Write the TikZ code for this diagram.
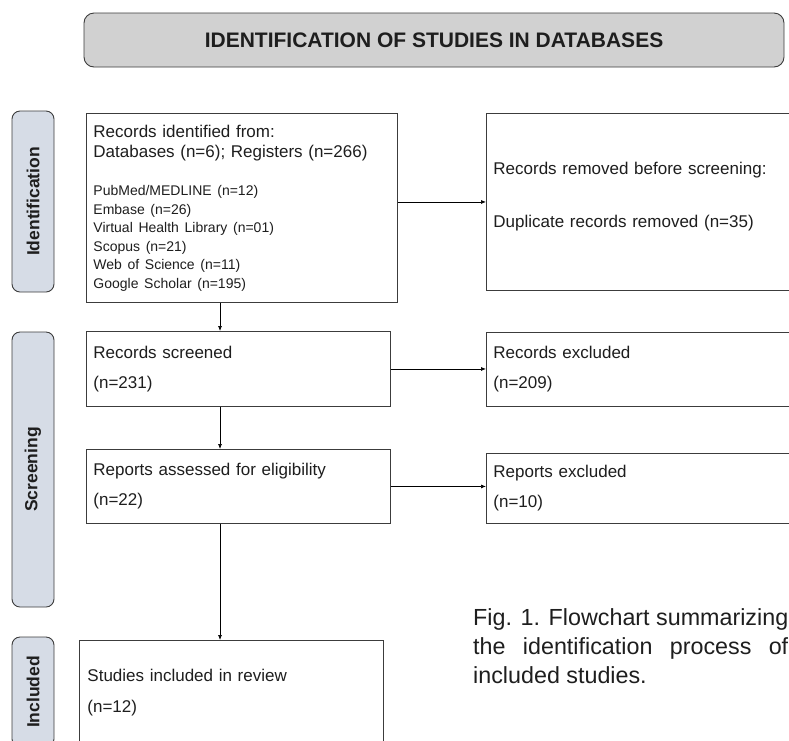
\documentclass[tikz,border=0pt]{standalone}
\usepackage{fontspec}
\setmainfont{Liberation Sans}
\usetikzlibrary{arrows.meta}

\definecolor{titlegray}{HTML}{D1D1D1}
\definecolor{stageblue}{HTML}{D6DCE6}
\definecolor{edgegray}{HTML}{3C3C3C}
\definecolor{inkgray}{HTML}{1E1E1E}
\newlength\capw
\newcommand\capfont{\fontsize{23.3}{29}\selectfont}

\tikzset{
  titlebox/.style={draw=edgegray, line width=0.9pt, fill=titlegray, rounded corners=10pt,
    minimum width=700pt, minimum height=54pt, inner sep=0pt,
    font=\fontsize{21}{24}\selectfont\bfseries, text=inkgray},
  stagebox/.style={draw=edgegray, line width=0.9pt, fill=stageblue, rounded corners=8pt,
    rotate=90, minimum height=42pt, inner sep=0pt,
    font=\fontsize{17.5}{20}\selectfont\bfseries, text=inkgray},
  flowbox/.style={draw=edgegray, line width=0.9pt, fill=white, anchor=north west,
    align=left, inner xsep=7pt, inner ysep=0pt,
    font=\fontsize{17}{30}\selectfont, text=inkgray},
  flowarrow/.style={draw=black, line width=0.7pt, -{Latex[length=5pt,width=4pt]}},
  capnode/.style={inner sep=0pt, align=left, font=\capfont, text=inkgray},
}

\begin{document}
\settowidth{\capw}{\capfont Fig. 1. Flowchart summarizing}%
\begin{tikzpicture}[x=1pt,y=1pt,yscale=-1]
  \useasboundingbox (0,0) rectangle (789,740);
  \clip (0,0) rectangle (789,740);

  % header
  \node[titlebox] (title) at (434,40) {IDENTIFICATION OF STUDIES IN DATABASES};

  % stage labels
  \node[stagebox, minimum width=181pt] (stage-id) at (33,201.5) {Identification};
  \node[stagebox, minimum width=275pt] (stage-scr) at (33,469.5) {Screening};
  \node[stagebox, minimum width=110pt] (stage-inc) at (33,692) {Included};

  % identification
  \node[flowbox, text width=297pt, minimum height=189pt] (records) at (86,113)
    {{\fontsize{17}{20}\selectfont Records identified from:\\Databases (n=6); Registers (n=266)\par}
     \vspace{19.7pt}
     \fontsize{14}{18.5}\selectfont PubMed/MEDLINE (n=12)\\Embase (n=26)\\Virtual Health Library (n=01)\\
     Scopus (n=21)\\Web of Science (n=11)\\Google Scholar (n=195)\par};
  \node[flowbox, text width=306pt, minimum height=177pt] (removed) at (486,113)
    {{\fontsize{17}{20}\selectfont Records removed before screening:\\[33pt]Duplicate records removed (n=35)\par}
     \vspace{10pt}};

  % screening
  \node[flowbox, text width=290pt, minimum height=75pt] (screened) at (86,331)
    {Records screened\\(n=231)};
  \node[flowbox, text width=306pt, minimum height=74pt] (excluded) at (486,332)
    {Records excluded\\(n=209)};
  \node[flowbox, text width=290pt, minimum height=74pt] (assessed) at (86,449)
    {Reports assessed for eligibility\\(n=22)};
  \node[flowbox, text width=306pt, minimum height=70pt] (repexcl) at (486,453)
    {Reports excluded\\(n=10)};

  % included
  \node[flowbox, inner xsep=8pt, text width=288pt, minimum height=105pt,
    font=\fontsize{17}{31}\selectfont] (included) at (79,640)
    {Studies included in review\\(n=12)};

  % connectors
  \coordinate (spine) at (220,0);
  \draw[flowarrow] (records.east |- removed.west) -- (removed.west);
  \draw[flowarrow] (records.south -| spine) -- (screened.north -| spine);
  \draw[flowarrow] (screened.east) -- (screened.east -| excluded.west);
  \draw[flowarrow] (screened.south -| spine) -- (assessed.north -| spine);
  \draw[flowarrow] (assessed.east) -- (assessed.east -| repexcl.west);
  \draw[flowarrow] (assessed.south -| spine) -- (included.north -| spine);

  % caption
  \node[capnode, anchor=west] (caption) at (473,646)
    {Fig. 1. Flowchart summarizing\\\makebox[\capw][s]{the identification process of}\\included studies.};
\end{tikzpicture}
\end{document}
